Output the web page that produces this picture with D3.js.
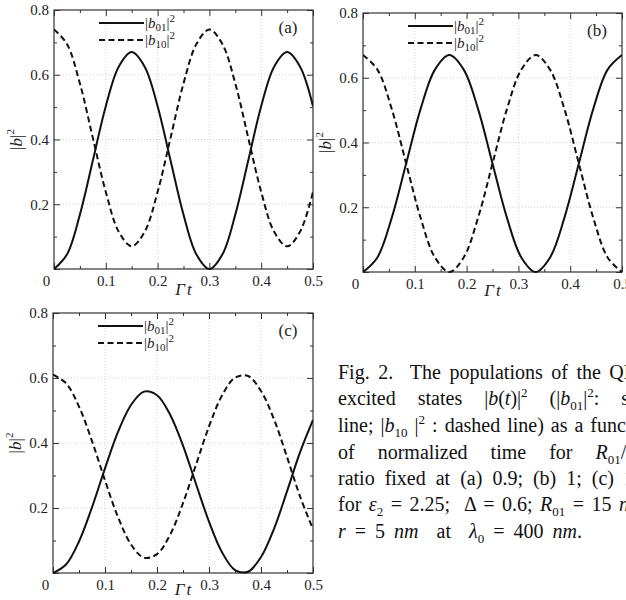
<!DOCTYPE html>
<html>
<head>
<meta charset="utf-8">
<script src="https://cdn.jsdelivr.net/npm/d3@7"></script>
<style>
  body { margin: 0; background: #fff; }
  svg { display: block; font-family: "Liberation Serif", "Times New Roman", serif; }
</style>
</head>
<body>
<div id="chart"></div>
<script>
let w = 626;
let h = 600;

// (a) R01/R10 = 0.9
let tA = [0, 0.025, 0.05, 0.075, 0.1, 0.125, 0.15, 0.175, 0.2, 0.225, 0.25,
          0.275, 0.3, 0.325, 0.35, 0.375, 0.4, 0.425, 0.45, 0.475, 0.5];
let b01A = [0, 0.045, 0.168, 0.335, 0.503, 0.625, 0.67, 0.625, 0.503, 0.335, 0.168,
            0.045, 0, 0.045, 0.168, 0.335, 0.503, 0.625, 0.67, 0.625, 0.503];
let b10A = [0.74, 0.695, 0.573, 0.405, 0.238, 0.115, 0.07, 0.115, 0.238, 0.405, 0.573,
            0.695, 0.74, 0.695, 0.573, 0.405, 0.238, 0.115, 0.07, 0.115, 0.238];

// (b) ratio 1
let tB = [0, 0.0278, 0.0556, 0.0833, 0.1111, 0.1389, 0.1667, 0.1944, 0.2222, 0.25,
          0.2778, 0.3056, 0.3333, 0.3611, 0.3889, 0.4167, 0.4444, 0.4722, 0.5];
let b01B = [0, 0.045, 0.168, 0.335, 0.503, 0.625, 0.67, 0.625, 0.503, 0.335,
            0.168, 0.045, 0, 0.045, 0.168, 0.335, 0.503, 0.625, 0.67];
let b10B = [0.67, 0.625, 0.503, 0.335, 0.168, 0.045, 0, 0.045, 0.168, 0.335,
            0.503, 0.625, 0.67, 0.625, 0.503, 0.335, 0.168, 0.045, 0];

// (c) ratio 1.1
let tC = [0, 0.025, 0.05, 0.075, 0.1, 0.125, 0.15, 0.175, 0.2, 0.225, 0.25,
          0.275, 0.3, 0.325, 0.35, 0.375, 0.4, 0.425, 0.45, 0.475, 0.5];
let b01C = [0, 0.026, 0.097, 0.202, 0.322, 0.434, 0.517, 0.558, 0.547, 0.488, 0.392,
            0.274, 0.158, 0.064, 0.009, 0.004, 0.049, 0.136, 0.251, 0.371, 0.471];
let b10C = [0.61, 0.584, 0.512, 0.406, 0.285, 0.172, 0.088, 0.047, 0.058, 0.117, 0.215,
            0.333, 0.451, 0.546, 0.601, 0.606, 0.560, 0.473, 0.357, 0.236, 0.135];

let xTicks = [0, 0.1, 0.2, 0.3, 0.4, 0.5];
let xMinor = [0.05, 0.15, 0.25, 0.35, 0.45];
let yTicks = [0, 0.2, 0.4, 0.6, 0.8];
let yMinor = [0.1, 0.3, 0.5, 0.7];
let panelLabels = ["(a)", "(b)", "(c)"];
let legendSubs = ["01", "10"];

let svg = d3.select("#chart").append("svg")
  .attr("width", w)
  .attr("height", h);

let panels = [
  {x0: 54, x1: 313, y0: 10, y1: 269, t: tA, s: b01A, d: b10A, xl: 295},
  {x0: 363, x1: 622, y0: 13, y1: 272, t: tB, s: b01B, d: b10B, xl: 296},
  {x0: 53, x1: 313, y0: 313, y1: 573, t: tC, s: b01C, d: b10C, xl: 595}
];

let fmt = d => d === 0 ? "0" : d3.format(".1f")(d);
let serif = "Liberation Serif, Times New Roman, serif";

panels.forEach(function(p, i){
  let x = d3.scaleLinear().domain([0, 0.5]).range([p.x0, p.x1]);
  let y = d3.scaleLinear().domain([0, 0.8]).range([p.y1, p.y0]);
  let g = svg.append("g");

  // dotted grid
  g.selectAll(".gx").data(xTicks.slice(1, -1)).enter().append("line")
    .attr("x1", d => x(d)).attr("x2", d => x(d))
    .attr("y1", p.y0).attr("y2", p.y1)
    .attr("stroke", "#c8c8c8").attr("stroke-width", 0.8).attr("stroke-dasharray", "1,2");
  g.selectAll(".gy").data(yTicks.slice(1, -1)).enter().append("line")
    .attr("x1", p.x0).attr("x2", p.x1)
    .attr("y1", d => y(d)).attr("y2", d => y(d))
    .attr("stroke", "#c8c8c8").attr("stroke-width", 0.8).attr("stroke-dasharray", "1,2");

  // axes, ticks pointing inside
  let bottom = g.append("g").attr("transform", "translate(0," + p.y1 + ")")
    .call(d3.axisBottom(x).tickValues(xTicks).tickSize(-6).tickPadding(4).tickFormat(fmt));
  g.append("g").attr("transform", "translate(0," + p.y1 + ")")
    .call(d3.axisBottom(x).tickValues(xMinor).tickSize(-3).tickFormat(""));
  g.append("g").attr("transform", "translate(0," + p.y0 + ")")
    .call(d3.axisTop(x).tickValues(xTicks).tickSize(-6).tickFormat(""));
  g.append("g").attr("transform", "translate(0," + p.y0 + ")")
    .call(d3.axisTop(x).tickValues(xMinor).tickSize(-3).tickFormat(""));
  let left = g.append("g").attr("transform", "translate(" + p.x0 + ",0)")
    .call(d3.axisLeft(y).tickValues(yTicks).tickSize(-6).tickPadding(5)
      .tickFormat(d => d === 0 ? "" : fmt(d)));
  g.append("g").attr("transform", "translate(" + p.x0 + ",0)")
    .call(d3.axisLeft(y).tickValues(yMinor).tickSize(-3).tickFormat(""));
  g.append("g").attr("transform", "translate(" + p.x1 + ",0)")
    .call(d3.axisRight(y).tickValues(yTicks).tickSize(-6).tickFormat(""));
  g.append("g").attr("transform", "translate(" + p.x1 + ",0)")
    .call(d3.axisRight(y).tickValues(yMinor).tickSize(-3).tickFormat(""));

  g.selectAll(".domain").remove();
  g.selectAll(".tick line").attr("stroke", "#333");
  bottom.attr("font-family", serif).attr("font-size", 15);
  left.attr("font-family", serif).attr("font-size", 15);
  g.selectAll(".tick text").attr("fill", "#222");
  bottom.selectAll(".tick text").attr("dy", "0.85em");
  // the shared corner "0" sits left of the origin
  bottom.selectAll(".tick text").filter(d => d === 0).attr("dx", -8);

  // frame
  g.append("rect")
    .attr("x", p.x0).attr("y", p.y0)
    .attr("width", p.x1 - p.x0).attr("height", p.y1 - p.y0)
    .attr("fill", "none").attr("stroke", "#333").attr("stroke-width", 1.2);

  // curves
  let clipId = "clip" + i;
  svg.append("clipPath").attr("id", clipId).append("rect")
    .attr("x", p.x0).attr("y", p.y0 - 2)
    .attr("width", p.x1 - p.x0).attr("height", p.y1 - p.y0 + 4);

  let line = d3.line()
    .x(d => x(d[0]))
    .y(d => y(d[1]))
    .curve(d3.curveCatmullRom.alpha(0.5));

  g.append("path")
    .datum(p.t.map((t, j) => [t, p.d[j]]))
    .attr("clip-path", "url(#" + clipId + ")")
    .attr("d", line)
    .attr("fill", "none").attr("stroke", "#111")
    .attr("stroke-width", 2).attr("stroke-dasharray", "6,3.5");
  g.append("path")
    .datum(p.t.map((t, j) => [t, p.s[j]]))
    .attr("clip-path", "url(#" + clipId + ")")
    .attr("d", line)
    .attr("fill", "none").attr("stroke", "#111")
    .attr("stroke-width", 2);

  // legend
  legendSubs.forEach(function(sub, k){
    let ly = p.y0 + 13 + k * 17;
    g.append("line")
      .attr("x1", p.x0 + 45).attr("x2", p.x0 + 90)
      .attr("y1", ly).attr("y2", ly)
      .attr("stroke", "#111").attr("stroke-width", 2)
      .attr("stroke-dasharray", k === 0 ? null : "6,3.5");
    let lt = g.append("text")
      .attr("x", p.x0 + 91).attr("y", ly + 5)
      .attr("font-family", serif).attr("font-size", 15).attr("fill", "#222");
    lt.append("tspan").text("|");
    lt.append("tspan").style("font-style", "italic").text("b");
    lt.append("tspan").attr("dy", 3).attr("font-size", 11).text(sub);
    lt.append("tspan").attr("dy", -3).text("|");
    lt.append("tspan").attr("dy", -6).attr("font-size", 11).text("2");
  });

  // panel tag
  g.append("text")
    .attr("x", p.x1 - 25).attr("y", p.y0 + 23)
    .attr("text-anchor", "middle")
    .attr("font-family", serif).attr("font-size", 17).attr("fill", "#222")
    .text(panelLabels[i]);

  // axis titles
  let xt = g.append("text")
    .attr("x", (p.x0 + p.x1) / 2).attr("y", p.xl)
    .attr("text-anchor", "middle")
    .attr("font-family", serif).attr("font-size", 17)
    .style("font-style", "italic").attr("fill", "#222");
  xt.append("tspan").text("Γ");
  xt.append("tspan").attr("dx", 2).text("t");

  let yt = g.append("text")
    .attr("transform", "translate(" + (p.x0 - 32) + "," + ((p.y0 + p.y1) / 2) + ") rotate(-90)")
    .attr("text-anchor", "middle")
    .attr("font-family", serif).attr("font-size", 17).attr("fill", "#222");
  yt.append("tspan").text("|");
  yt.append("tspan").style("font-style", "italic").text("b");
  yt.append("tspan").text("|");
  yt.append("tspan").attr("dy", -8).attr("font-size", 11).text("2");
});

// caption (justified, running past the right edge as in the source)
let captionLines = [
  [["Fig. 2.  The populations of the QD", ""]],
  [["excited states |", ""], ["b", "i"], ["(", ""], ["t", "i"], [")|", ""], ["2", "sup"],
   [" (|", ""], ["b", "i"], ["01", "sub"], ["|", ""], ["2", "sup"], [": solid", ""]],
  [["line; |", ""], ["b", "i"], ["10", "sub"], [" |", ""], ["2", "sup"], [" : dashed line) as a function", ""]],
  [["of normalized time for ", ""], ["R", "i"], ["01", "sub"], ["/", ""], ["R", "i"], ["10", "sub"]],
  [["ratio fixed at (a) 0.9; (b) 1; (c) 1.1", ""]],
  [["for ", ""], ["ε", "i"], ["2", "sub"], [" = 2.25;  Δ = 0.6; ", ""], ["R", "i"], ["01", "sub"], [" = 15 ", ""], ["nm", "i"]],
  [["r", "i"], [" = 5 ", ""], ["nm", "i"], ["  at  ", ""], ["λ", "i"], ["0", "sub"], [" = 400 ", ""], ["nm", "i"], [".", ""]]
];
let captionY = [379, 405, 432, 459, 485, 511, 538];
let captionSpacing = [3.5, 17, 2, 18, 5, 2.5, 4];

captionLines.forEach(function(parts, i){
  let t = svg.append("text")
    .attr("x", 338).attr("y", captionY[i])
    .attr("xml:space", "preserve")
    .style("white-space", "pre")
    .attr("font-family", serif)
    .attr("font-size", 20)
    .style("word-spacing", captionSpacing[i] + "px")
    .attr("fill", "#111");
  let shift = 0;
  parts.forEach(function(pt){
    let s = t.append("tspan").text(pt[0]);
    let want = pt[1] === "sub" ? 5 : pt[1] === "sup" ? -8 : 0;
    if (want !== shift) { s.attr("dy", want - shift); shift = want; }
    if (pt[1] === "i") s.style("font-style", "italic");
    if (pt[1] === "sub" || pt[1] === "sup") s.attr("font-size", 13);
  });
});
</script>
</body>
</html>
